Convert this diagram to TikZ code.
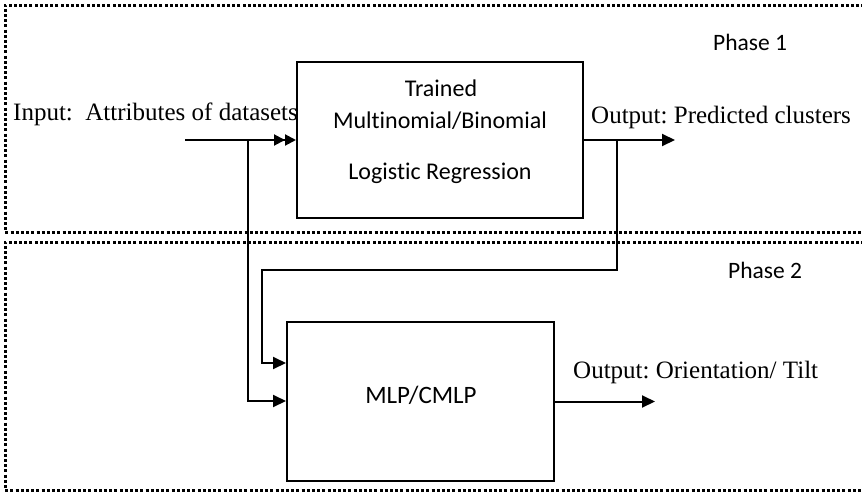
\documentclass[tikz,border=0pt]{standalone}
\usepackage{fontspec}
\setmainfont{Liberation Serif}
\newfontfamily\calib[Ligatures=NoCommon]{Carlito}
\usetikzlibrary{arrows.meta}
\frenchspacing
\begin{document}
\begin{tikzpicture}[x=1pt,y=-1pt,
  box/.style={draw,line width=2pt,inner sep=0pt},
  conn/.style={line width=2pt},
  arr/.style={conn,-{Triangle[length=13pt,width=12pt]}},
  darr/.style={conn,-{Triangle[length=11pt,width=11pt]Triangle[length=11pt,width=11pt]}},
  phasebox/.style={draw,line width=3pt,dash pattern=on 3pt off 2.2pt},
  serlab/.style={inner sep=0pt,anchor=base west,font=\fontsize{25}{30}\selectfont},
  boxtxt/.style={inner sep=0pt,anchor=base,font=\calib\fontsize{24}{28}\selectfont},
  phaselab/.style={inner sep=0pt,anchor=base west,font=\calib\fontsize{23.5}{28}\selectfont}
]
\useasboundingbox (0,0) rectangle (862,493);
\fill[white] (0,0) rectangle (862,493);
% phase regions
\draw[phasebox] (880,5) -- (5,5) -- (5,232) -- (880,232);
\draw[phasebox] (880,242) -- (5,242) -- (5,490) -- (880,490);
\node[phaselab] (p1) at (713,50) {Phase 1};
\node[phaselab] (p2) at (728,278) {Phase 2};
% boxes
\node[box,minimum width=286pt,minimum height=156pt] (lr) at (440,140) {};
\node[box,minimum width=267pt,minimum height=159pt] (mlp) at (420.5,401.5) {};
\node[boxtxt] (t1) at (441,96) {Trained};
\node[boxtxt] (t2) at (440,128) {Multinomial/Binomial};
\node[boxtxt] (t3) at (440,179) {Logistic Regression};
\node[boxtxt,font=\calib\fontsize{25}{28}\selectfont] (t4) at (421,403) {MLP/CMLP};
% labels
\node[serlab] (inlab) at (13,120) {Input:\ \ Attributes of datasets};
\node[serlab] (out1) at (591,123) {Output: Predicted clusters};
\node[serlab] (out2) at (573,378) {Output: Orientation/ Tilt};
% coordinates
\coordinate (in) at (185,140);
\coordinate (j1) at (248,140);
\coordinate (j2) at (617,140);
\coordinate (f2) at (262,270);
\coordinate (ya) at (0,363);
\coordinate (yb) at (0,401);
\coordinate (o1) at (675,140);
\coordinate (o2) at (655,401.5);
% connectors
\draw[darr] (in) -- (lr.west);
\draw[arr] (j1) |- (mlp.west |- yb);
\draw[arr] (lr.east) -- (o1);
\draw[arr] (j2) |- (f2) |- (mlp.west |- ya);
\draw[arr] (mlp.east) -- (o2);
\end{tikzpicture}
\end{document}
